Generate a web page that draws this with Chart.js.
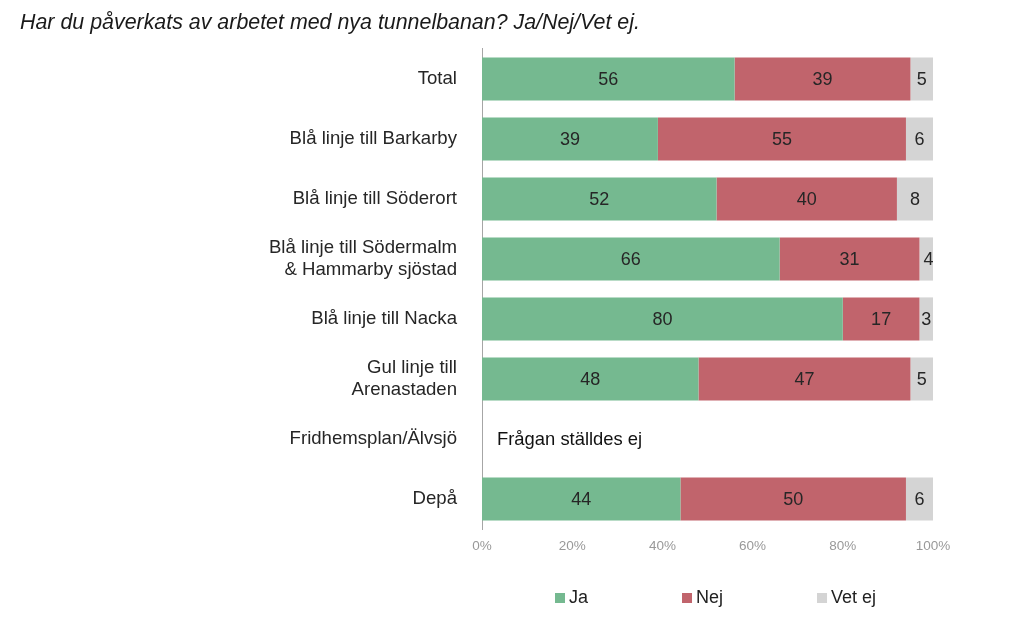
<!DOCTYPE html>
<html>
<head>
<meta charset="utf-8">
<script src="https://cdn.jsdelivr.net/npm/chart.js@4/dist/chart.umd.min.js"></script>
<style>
  html, body { margin: 0; padding: 0; background: #fff; }
  #wrap { width: 1024px; height: 623px; }
</style>
</head>
<body>
<div id="wrap"><canvas id="c" width="1024" height="623"></canvas></div>
<script>
const titleText = 'Har du påverkats av arbetet med nya tunnelbanan? Ja/Nej/Vet ej.';
const categories = [
  'Total',
  'Blå linje till Barkarby',
  'Blå linje till Söderort',
  ['Blå linje till Södermalm', '& Hammarby sjöstad'],
  'Blå linje till Nacka',
  ['Gul linje till', 'Arenastaden'],
  'Fridhemsplan/Älvsjö',
  'Depå'
];
const seriesNames = ['Ja', 'Nej', 'Vet ej'];
const jaValues    = [56, 39, 52, 66, 80, 48, null, 44];
const nejValues   = [39, 55, 40, 31, 17, 47, null, 50];
const vetEjValues = [5, 6, 8, 4, 3, 5, null, 6];
const xTicks = [0, 20, 40, 60, 80, 100];
const notAskedText = 'Frågan ställdes ej';
const notAskedIndex = 6;

const colors = ['#75B990', '#C1646C', '#D4D4D4'];
const FONT = '"Liberation Sans", Arial, sans-serif';

const valueLabels = {
  id: 'valueLabels',
  afterDatasetsDraw(chart) {
    const ctx = chart.ctx;
    ctx.save();
    ctx.font = '18px ' + FONT;
    ctx.fillStyle = '#262626';
    ctx.textAlign = 'center';
    ctx.textBaseline = 'middle';
    chart.data.datasets.forEach((ds, di) => {
      const meta = chart.getDatasetMeta(di);
      meta.data.forEach((bar, i) => {
        const v = ds.data[i];
        if (v === null || v === undefined) return;
        const p = bar.getProps(['x', 'base', 'y'], true);
        ctx.fillText(String(v), (p.x + p.base) / 2, p.y + 1);
      });
    });
    const ys = chart.scales.y;
    ctx.textAlign = 'left';
    ctx.fillStyle = '#111';
    ctx.font = '18.4px ' + FONT;
    ctx.fillText(notAskedText, chart.chartArea.left + 15, ys.getPixelForValue(notAskedIndex) + 1);
    ctx.restore();
  }
};

const customLegend = {
  id: 'customLegend',
  afterDraw(chart) {
    const ctx = chart.ctx;
    ctx.save();
    ctx.font = '18px ' + FONT;
    ctx.textBaseline = 'middle';
    ctx.textAlign = 'left';
    let x = chart.chartArea.left + 73;
    const y = 598;
    chart.data.datasets.forEach((ds) => {
      ctx.fillStyle = ds.backgroundColor;
      ctx.fillRect(x, y - 5, 10, 10);
      ctx.fillStyle = '#222';
      ctx.fillText(ds.label, x + 14, y);
      const w = ctx.measureText(ds.label).width;
      x += 10 + 5 + w + 93;
    });
    ctx.restore();
  }
};

new Chart(document.getElementById('c'), {
  type: 'bar',
  data: {
    labels: categories,
    datasets: [
      { label: seriesNames[0], data: jaValues, backgroundColor: colors[0] },
      { label: seriesNames[1], data: nejValues, backgroundColor: colors[1] },
      { label: seriesNames[2], data: vetEjValues, backgroundColor: colors[2] }
    ]
  },
  options: {
    indexAxis: 'y',
    responsive: false,
    animation: false,
    devicePixelRatio: 1,
    layout: { padding: { left: 20, right: 91, top: 0, bottom: 60 } },
    datasets: { bar: { barPercentage: 0.72, categoryPercentage: 1.0, borderWidth: 0 } },
    plugins: {
      legend: { display: false },
      tooltip: { enabled: false },
      title: {
        display: true,
        text: titleText,
        align: 'start',
        color: '#1a1a1a',
        font: { family: FONT, size: 21.4, style: 'italic', weight: 'normal' },
        padding: { top: 10, bottom: 13.3 }
      }
    },
    scales: {
      x: {
        stacked: true,
        min: 0,
        max: 100,
        afterBuildTicks(scale) { scale.ticks = xTicks.map(v => ({ value: v })); },
        afterFit(scale) { scale.height = 34; },
        grid: { display: false, drawTicks: false },
        border: { display: false },
        ticks: {
          padding: 9,
          color: '#999',
          font: { family: FONT, size: 13.5 },
          callback: v => v + '%'
        }
      },
      y: {
        stacked: true,
        afterFit(scale) { scale.width = 462; },
        grid: { display: false, drawTicks: false },
        border: { display: true, color: '#A6A6A6', width: 1 },
        ticks: {
          padding: 25,
          color: '#262626',
          font: { family: FONT, size: 18.6, lineHeight: 1.19 }
        }
      }
    }
  },
  plugins: [valueLabels, customLegend]
});
</script>
</body>
</html>
